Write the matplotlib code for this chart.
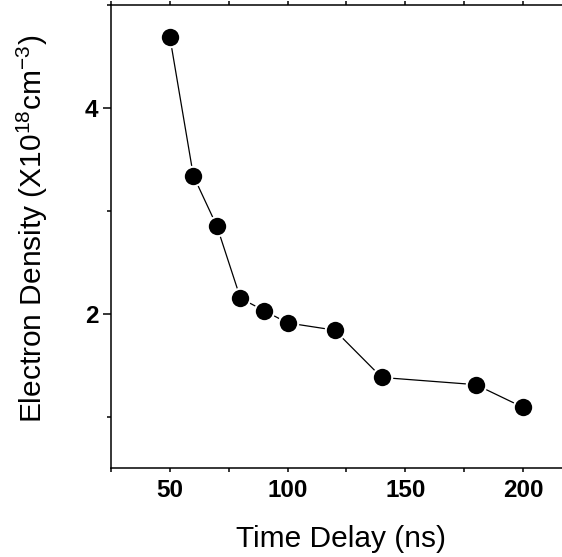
import matplotlib.pyplot as plt
from matplotlib.ticker import MultipleLocator

# data
time_delay = [50, 60, 70, 80, 90, 100, 120, 140, 180, 200]
density = [4.69, 3.34, 2.85, 2.15, 2.03, 1.91, 1.84, 1.38, 1.31, 1.09]

plt.rcParams['font.family'] = ['Liberation Sans', 'DejaVu Sans']
plt.rcParams['mathtext.fontset'] = 'custom'
plt.rcParams['mathtext.rm'] = 'Liberation Sans'
plt.rcParams['mathtext.it'] = 'Liberation Sans'

fig = plt.figure(figsize=(5.62, 5.57), dpi=100)
ax = fig.add_axes([0.1975, 0.1598, 0.8025, 0.8312])

ax.plot(time_delay, density, color='black', lw=0.9, marker='o', ms=14,
        mfc='black', mec='white', mew=1.5, clip_on=False)

ax.set_xlim(25, 216.6)
ax.set_ylim(0.5, 5.0)
ax.xaxis.set_major_locator(MultipleLocator(50))
ax.xaxis.set_minor_locator(MultipleLocator(25))
ax.yaxis.set_major_locator(MultipleLocator(2))
ax.yaxis.set_minor_locator(MultipleLocator(1))

for s in ['left', 'bottom', 'top']:
    ax.spines[s].set_linewidth(1.1)
ax.spines['right'].set_visible(False)

ax.tick_params(axis='x', which='both', direction='out', length=3, width=1.1,
               top=True, labelsize=17.5, pad=5)
ax.tick_params(axis='y', which='major', direction='out', length=6, width=1.1,
               labelsize=17.5, pad=3)
ax.tick_params(axis='y', which='minor', direction='out', length=3, width=1.1)
for lab in ax.get_xticklabels() + ax.get_yticklabels():
    lab.set_fontweight('bold')

ax.set_xlabel('Time Delay (ns)', fontsize=21.5)
ax.xaxis.set_label_coords(0.51, -0.123)
ax.set_ylabel(r'Electron Density (X10$^{\mathrm{18}}$cm$^{\mathrm{-3}}$)',
              fontsize=21.5)
ax.yaxis.set_label_coords(-0.136, 0.516)

fig.savefig('out.png', dpi=100)
